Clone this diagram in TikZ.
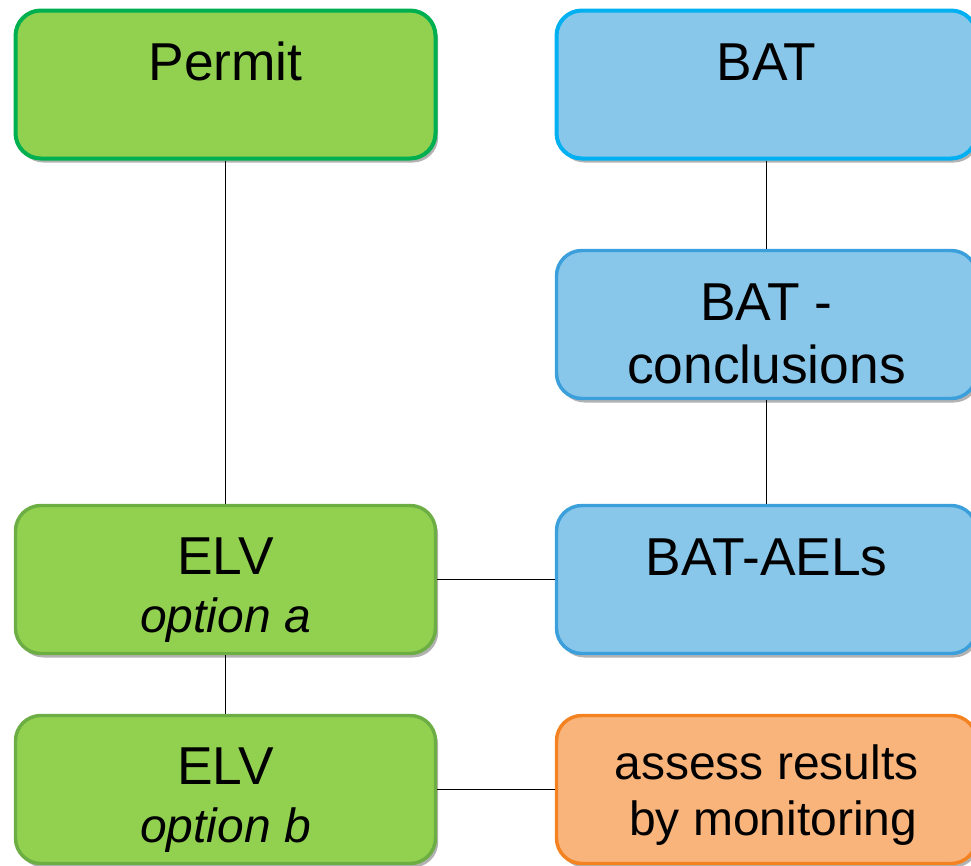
\documentclass[tikz,border=0pt]{standalone}
\usepackage{fontspec}
\setmainfont{Liberation Sans}
\usetikzlibrary{shadows}
\definecolor{gfill}{HTML}{92D050}
\definecolor{gdark}{HTML}{00B050}
\definecolor{gline}{HTML}{6DAE44}
\definecolor{bfill}{HTML}{88C7EA}
\definecolor{bdark}{HTML}{00B0F0}
\definecolor{bline}{HTML}{3A9FDA}
\definecolor{ofill}{HTML}{F8B47B}
\definecolor{oline}{HTML}{F58220}
\newcommand{\optfont}{\fontsize{36}{43}\selectfont\itshape}
\tikzset{
  box/.style={rectangle, rounded corners=19pt, minimum width=315pt, minimum height=111pt,
    line width=2.6pt, inner sep=0pt,
    drop shadow={shadow xshift=2pt, shadow yshift=-3pt, opacity=0.3, fill=black}},
  greenbox/.style={box, fill=gfill, draw=gline},
  bluebox/.style={box, fill=bfill, draw=bline},
  orangebox/.style={box, fill=ofill, draw=oline},
  lbl/.style={anchor=base, align=center, font=\fontsize{40}{43}\selectfont, inner sep=0pt},
  conn/.style={draw=black, line width=1.3pt}
}
\begin{document}
\begin{tikzpicture}[x=0.75pt, y=-0.75pt]
\useasboundingbox (0,0) rectangle (971,865);
\node[greenbox, draw=gdark, line width=3pt] (permit) at (225.5,84.5) {};
\node[bluebox, draw=bdark, line width=3pt] (bat) at (766.5,84.5) {};
\node[bluebox] (concl) at (766.5,324.5) {};
\node[greenbox] (elva) at (225.5,579.5) {};
\node[bluebox] (aels) at (766.5,579.5) {};
\node[greenbox] (elvb) at (225.5,789.5) {};
\node[orangebox] (assess) at (766.5,789.5) {};

\draw[conn] (permit.south) -- (elva.north);
\draw[conn] (bat.south) -- (concl.north);
\draw[conn] (concl.south) -- (aels.north);
\draw[conn] (elva.east) -- (aels.west);
\draw[conn] (elva.south) -- (elvb.north);
\draw[conn] (elvb.east) -- (assess.west);

\node[lbl] (tpermit) at (225.5,80) {Permit};
\node[lbl] (tbat) at (766.5,80) {BAT};
\node[lbl, font=\fontsize{40}{47}\selectfont] (tconcl) at (766.5,383) {BAT -\\conclusions};
\node[lbl] (telva) at (225.5,632) {ELV\\{\optfont option a}};
\node[lbl] (taels) at (766.5,575) {BAT-AELs};
\node[lbl] (telvb) at (225.5,842) {ELV\\{\optfont option b}};
\node[lbl, font=\fontsize{36}{42}\selectfont] (tassess) at (766.5,835) {assess results\\\hspace*{0.278em}by monitoring};
\end{tikzpicture}
\end{document}
